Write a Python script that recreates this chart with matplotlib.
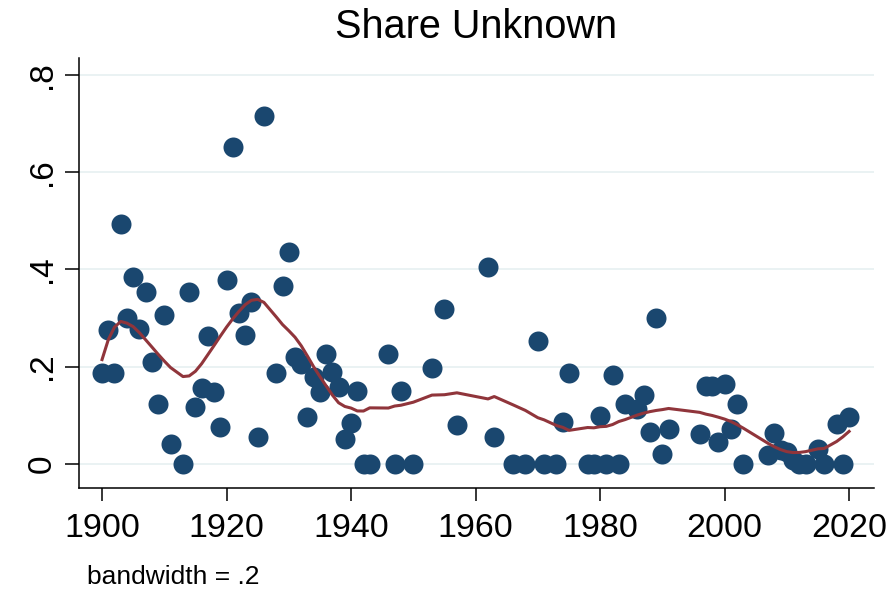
import numpy as np
import matplotlib
matplotlib.use('Agg')
import matplotlib.pyplot as plt

plt.rcParams['font.family'] = ['Liberation Sans', 'DejaVu Sans']

# data
years = [1900, 1901, 1902, 1903, 1904, 1905, 1906, 1907, 1908, 1909,
         1910, 1911, 1913, 1914, 1915, 1916, 1917, 1918, 1919, 1920,
         1921, 1922, 1923, 1924, 1925, 1926, 1928, 1929, 1930, 1931,
         1932, 1933, 1934, 1935, 1936, 1937, 1938, 1939, 1940, 1941,
         1942, 1943, 1946, 1947, 1948, 1950, 1953, 1955, 1957, 1962,
         1963, 1966, 1968, 1970, 1971, 1973, 1974, 1975, 1978, 1979,
         1980, 1981, 1982, 1983, 1984, 1986, 1987, 1988, 1989, 1990,
         1991, 1996, 1997, 1998, 1999, 2000, 2001, 2002, 2003, 2007,
         2008, 2009, 2010, 2011, 2012, 2013, 2015, 2016, 2018, 2019,
         2020]
share_unknown = [0.186, 0.275, 0.186, 0.494, 0.300, 0.384, 0.277, 0.354, 0.209, 0.124,
                 0.306, 0.041, 0.0, 0.353, 0.118, 0.157, 0.263, 0.148, 0.076, 0.378,
                 0.651, 0.310, 0.265, 0.333, 0.056, 0.715, 0.188, 0.366, 0.436, 0.220,
                 0.205, 0.097, 0.178, 0.147, 0.227, 0.190, 0.158, 0.052, 0.084, 0.149,
                 0.0, 0.0, 0.227, 0.0, 0.149, 0.0, 0.198, 0.318, 0.081, 0.405,
                 0.055, 0.0, 0.0, 0.252, 0.0, 0.0, 0.086, 0.186, 0.0, 0.0,
                 0.099, 0.0, 0.182, 0.0, 0.124, 0.112, 0.142, 0.066, 0.300, 0.021,
                 0.071, 0.062, 0.161, 0.161, 0.045, 0.165, 0.072, 0.124, 0.0, 0.019,
                 0.063, 0.028, 0.025, 0.008, 0.0, 0.0, 0.030, 0.0, 0.083, 0.0,
                 0.097]
bwidth = 0.2
yticks = [0, 0.2, 0.4, 0.6, 0.8]
ytick_labels = ['0', '.2', '.4', '.6', '.8']
xticks = [1900, 1920, 1940, 1960, 1980, 2000, 2020]


def stata_lowess(x, y, bw):
    # running-line smoother with tricube weights (same rule as Stata's lowess)
    x = np.asarray(x, float)
    y = np.asarray(y, float)
    n = len(x)
    k = int(np.floor((n * bw - 0.5) / 2))
    fit = np.empty(n)
    for i in range(n):
        lo = max(0, i - k)
        hi = min(n - 1, i + k)
        xs = x[lo:hi + 1]
        ys = y[lo:hi + 1]
        delta = 1.0001 * max(x[hi] - x[i], x[i] - x[lo])
        w = (1 - (np.abs(xs - x[i]) / delta) ** 3) ** 3
        xm = np.sum(w * xs) / np.sum(w)
        ym = np.sum(w * ys) / np.sum(w)
        sxx = np.sum(w * (xs - xm) ** 2)
        b = np.sum(w * (xs - xm) * (ys - ym)) / sxx if sxx > 0 else 0.0
        fit[i] = ym + b * (x[i] - xm)
    return fit


smooth = stata_lowess(years, share_unknown, bwidth)

fig = plt.figure(figsize=(8.92, 5.90), dpi=100)
ax = fig.add_axes([79 / 892, 1 - 488 / 590, (874 - 79) / 892, (488 - 58) / 590])

navy = '#1a476f'
maroon = '#90353b'

ax.plot(years, share_unknown, 'o', color=navy, markersize=14.4, markeredgewidth=0, zorder=3)
ax.plot(years, smooth, '-', color=maroon, linewidth=2.2, zorder=4)

ax.set_xlim(1896.3, 2024.0)
ax.set_ylim(-0.0496, 0.835)
ax.set_yticks(yticks)
ax.set_yticklabels(ytick_labels, rotation=90, va='center')
ax.set_xticks(xticks)
ax.grid(axis='y', color='#eaf2f3', linewidth=1.4, zorder=0)
ax.set_axisbelow(True)

for side in ['top', 'right']:
    ax.spines[side].set_visible(False)
for side in ['left', 'bottom']:
    ax.spines[side].set_color('black')
    ax.spines[side].set_linewidth(1.1)

ax.tick_params(axis='y', length=10, width=1.1, pad=5, labelsize=24, color='black')
ax.tick_params(axis='x', length=9, width=1.1, pad=9, labelsize=24.5, color='black')

fig.text(476 / 892, 1 - 27 / 590, 'Share Unknown', ha='center', va='center', fontsize=28.5)
fig.text(87 / 892, 1 - 577 / 590, 'bandwidth = .2', ha='left', va='center', fontsize=19)

fig.savefig('out.png', dpi=100, facecolor='white')
